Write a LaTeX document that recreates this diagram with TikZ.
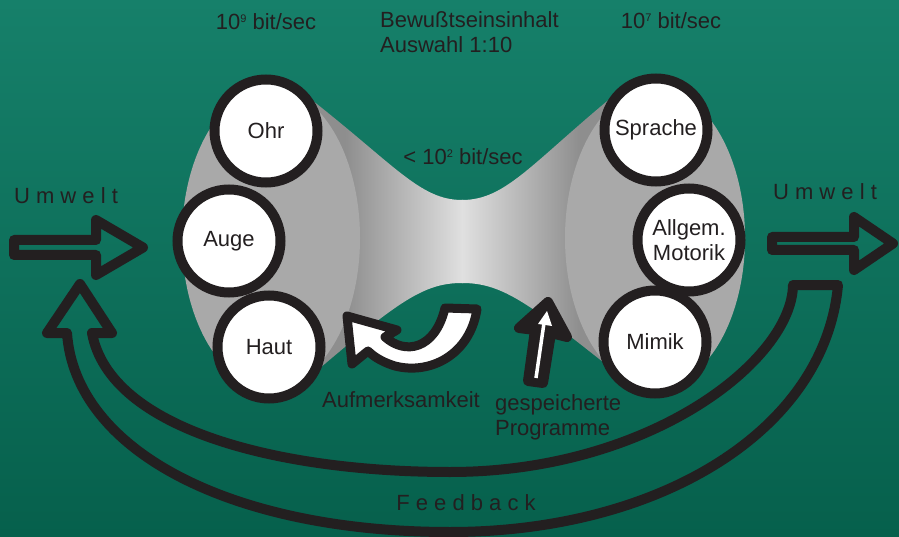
\documentclass[tikz,border=0pt]{standalone}
\usepackage{fontspec}
\setmainfont{Liberation Sans}
\definecolor{ink}{HTML}{231F20}
\definecolor{bgtop}{HTML}{16806A}
\definecolor{bgbot}{HTML}{06604C}
\definecolor{ellgray}{HTML}{A9A9A9}
\definecolor{hgdark}{HTML}{8E8E8E}
\definecolor{hglight}{HTML}{E0E0E0}
\newcommand\supnum[1]{\raisebox{7.8pt}{\fontsize{11}{11}\selectfont #1}}
\tikzset{
  lbl/.style={text=ink, font=\fontsize{22}{25}\selectfont, inner sep=0pt},
  circ/.style={circle, draw=ink, line width=10pt, fill=white, minimum size=103pt, inner sep=0pt, lbl, align=center},
  outl/.style={draw=ink, line width=10pt, line join=round},
}
\begin{document}
\begin{tikzpicture}[x=1pt,y=-1pt]
\useasboundingbox (0,0) rectangle (899,537);
\shade[top color=bgtop,bottom color=bgbot] (0,0) rectangle (899,537);
% hourglass body
\begin{scope}
\clip (308,97) .. controls (395,165) and (420,200) .. (462,200)
  .. controls (505,200) and (530,165) .. (612,97) -- (620,120) -- (620,370) -- (608,366)
  .. controls (525,300) and (500,283) .. (462,283)
  .. controls (425,283) and (400,300) .. (320,368) -- (300,370) -- (300,120) -- cycle;
\fill[hgdark] (290,80) rectangle (345,400);
\shade[left color=hgdark,right color=hglight] (345,80) rectangle (463,400);
\shade[left color=hglight,right color=hgdark] (462,80) rectangle (580,400);
\fill[hgdark] (580,80) rectangle (630,400);
\end{scope}
\fill[ellgray] (271,238) ellipse [x radius=89pt, y radius=150pt];
\fill[ellgray] (655,238) ellipse [x radius=90pt, y radius=150pt];
% circles
\node[circ] (ohr) at (266,131) {Ohr};
\node[circ] (auge) at (229,241) {Auge};
\node[circ] (haut) at (269,347) {Haut};
\node[circ] (sprache) at (656,130) {Sprache};
\node[circ] (motorik) at (689,240) {Allgem.\\Motorik};
\node[circ] (mimik) at (655,342) {Mimik};
% input / output arrows
\draw[outl] (14,240) -- (96,240) -- (96,220) -- (143,247.5) -- (96,275) -- (96,255) -- (14,255) -- cycle;
\draw[outl] (772,237) -- (854,237) -- (854,217) -- (893,243.5) -- (854,270) -- (854,250) -- (772,250) -- cycle;
% feedback arrow
\draw[outl] (793,285) -- (838,285) .. controls (825,430) and (660,532) .. (450,532)
  .. controls (230,532) and (75,450) .. (67,333) -- (47,333) -- (80,284) -- (112,333) -- (92,333)
  .. controls (110,430) and (280,472) .. (450,472)
  .. controls (650,472) and (792,360) .. (793,285) -- cycle;
% Aufmerksamkeit arrow
\draw[outl, line width=9pt, fill=white] (347,316) -- (397,330) -- (385,337)
  .. controls (405,355) and (435,350) .. (445,308) -- (477,309)
  .. controls (470,355) and (430,375) .. (395,366)
  .. controls (385,363) and (375,358) .. (368,351) -- (352,364) -- cycle;
% gespeicherte Programme arrow
\draw[outl, fill=ink] (548,302) -- (567,337) -- (551,333) -- (543,383) -- (528,381) -- (535,330) -- (519,328) -- cycle;
\draw[white, line width=3.5pt] (536,378) -- (544,323);
\fill[white] (547,311) -- (552,326) -- (538,324) -- cycle;
% texts
\node[lbl, anchor=base] (r9) at (266,30) {10\supnum{9} bit/sec};
\node[lbl, anchor=base] (r7) at (671,29) {10\supnum{7} bit/sec};
\node[lbl, anchor=north west, align=left] (bew) at (380,11) {Bewußtseinsinhalt\\Auswahl 1:10};
\node[lbl, anchor=base] (r2) at (463,165) {< 10\supnum{2} bit/sec};
\node[lbl, anchor=base] (uwl) at (66,204) {U m w e l t};
\node[lbl, anchor=base] (uwr) at (825,200) {U m w e l t};
\node[lbl, anchor=base] (fb) at (466,510) {F e e d b a c k};
\node[lbl, anchor=base] (auf) at (401,407) {Aufmerksamkeit};
\node[lbl, anchor=north west, align=left] (gp) at (495,394) {gespeicherte\\Programme};
\end{tikzpicture}
\end{document}
